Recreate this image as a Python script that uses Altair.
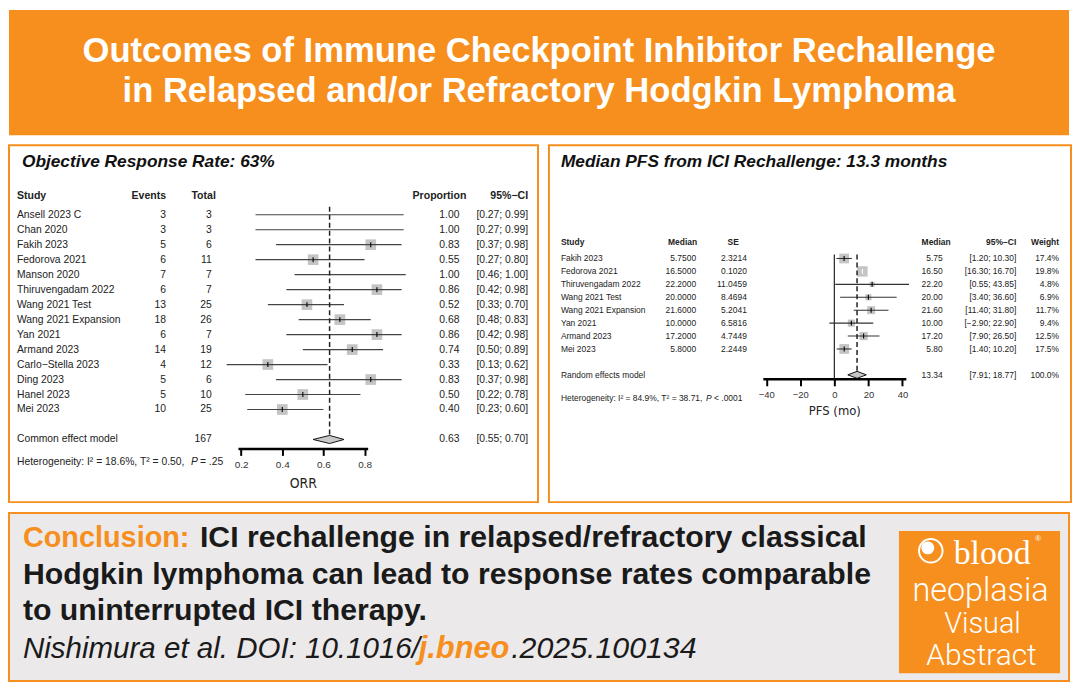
import altair as alt
import pandas as pd

# ------------------------------------------------------------------ data
orr_study = ["Ansell 2023 C", "Chan 2020", "Fakih 2023", "Fedorova 2021", "Manson 2020",
             "Thiruvengadam 2022", "Wang 2021 Test", "Wang 2021 Expansion", "Yan 2021",
             "Armand 2023", "Carlo\u2212Stella 2023", "Ding 2023", "Hanel 2023", "Mei 2023"]
orr_events = [3, 3, 5, 6, 7, 6, 13, 18, 6, 14, 4, 5, 5, 10]
orr_total = [3, 3, 6, 11, 7, 7, 25, 26, 7, 19, 12, 6, 10, 25]
orr_prop = [1.00, 1.00, 0.83, 0.55, 1.00, 0.86, 0.52, 0.68, 0.86, 0.74, 0.33, 0.83, 0.50, 0.40]
orr_lo = [0.27, 0.27, 0.37, 0.27, 0.46, 0.42, 0.33, 0.48, 0.42, 0.50, 0.13, 0.37, 0.22, 0.23]
orr_hi = [0.99, 0.99, 0.98, 0.80, 1.00, 0.98, 0.70, 0.83, 0.98, 0.89, 0.62, 0.98, 0.78, 0.60]
orr_model_label = "Common effect model"
orr_model_total = 167
orr_model_est = 0.63
orr_model_lo = 0.55
orr_model_hi = 0.70
orr_ticks = [0.2, 0.4, 0.6, 0.8]

pfs_study = ["Fakih 2023", "Fedorova 2021", "Thiruvengadam 2022", "Wang 2021 Test",
             "Wang 2021 Expansion", "Yan 2021", "Armand 2023", "Mei 2023"]
pfs_median = [5.75, 16.5, 22.2, 20.0, 21.6, 10.0, 17.2, 5.8]
pfs_se = [2.3214, 0.1020, 11.0459, 8.4694, 5.2041, 6.5816, 4.7449, 2.2449]
pfs_lo = [1.20, 16.30, 0.55, 3.40, 11.40, -2.90, 7.90, 1.40]
pfs_hi = [10.30, 16.70, 43.85, 36.60, 31.80, 22.90, 26.50, 10.20]
pfs_weight = [17.4, 19.8, 4.8, 6.9, 11.7, 9.4, 12.5, 17.5]
pfs_model_label = "Random effects model"
pfs_model_est = 13.34
pfs_model_lo = 7.91
pfs_model_hi = 18.77
pfs_model_weight = 100.0
pfs_ticks = [-40, -20, 0, 20, 40]

# ------------------------------------------------------------------ style
ORANGE = "#f78f1e"
GREY_BG = "#ebe9ea"
BOX = "#c4c4c4"
INK = "#222222"
SANS = "Liberation Sans"
NARROW = "Liberation Sans Narrow, DejaVu Sans Condensed, sans-serif"
LIGHT = "Roboto"


def fmt_ci(a, b):
    return f"[{a:.2f}; {b:.2f}]".replace("-", "\u2212")


def one(t):
    return pd.DataFrame({"t": [t]})


def text_layer(df, x, y, field="t", align="left", size=10.4, weight="normal",
               style="normal", color=INK, font=SANS, baseline="middle"):
    return alt.Chart(df).mark_text(
        align=align, baseline=baseline, fontSize=size, fontWeight=weight,
        fontStyle=style, color=color, font=font
    ).encode(x=alt.value(x), y=y, text=alt.Text(f"{field}:N"))


# ------------------------------------------------------------------ left panel (ORR)
orr = pd.DataFrame({"study": orr_study, "events": orr_events, "total": orr_total,
                    "prop": orr_prop, "lo": orr_lo, "hi": orr_hi})
orr["row"] = list(range(len(orr)))
orr["ev_t"] = orr["events"].astype(str)
orr["tot_t"] = orr["total"].astype(str)
orr["prop_t"] = orr["prop"].map(lambda v: f"{v:.2f}")
orr["ci_t"] = [fmt_ci(a, b) for a, b in zip(orr_lo, orr_hi)]

L_ROW_M = len(orr) + 1
orr_m = pd.DataFrame({"label": [orr_model_label], "tot_t": [str(orr_model_total)],
                      "est_t": [f"{orr_model_est:.2f}"],
                      "ci_t": [fmt_ci(orr_model_lo, orr_model_hi)], "row": [L_ROW_M]})
hL = 0.27
orr_dia = pd.DataFrame({"x": [orr_model_lo, orr_model_est, orr_model_hi],
                        "ya": [L_ROW_M, L_ROW_M - hL, L_ROW_M],
                        "yb": [L_ROW_M, L_ROW_M + hL, L_ROW_M]})
orr_ref = pd.DataFrame({"x": [orr_model_est], "ya": [-0.53], "yb": [L_ROW_M - hL]})

L_W, L_H = 532, 359
axL = alt.Axis(values=orr_ticks, format=".1f", offset=305 - L_H, orient="bottom",
               domainColor="black", domainWidth=2.6, tickColor="black", tickWidth=2,
               tickSize=7, labelFont=SANS, labelFontSize=10, labelColor="#333",
               labelPadding=4, labelFlush=False, grid=False, title="ORR",
               titleFont=NARROW, titleFontSize=14, titleFontWeight="normal",
               titleColor="#222", titlePadding=7)


def xL(f):
    return alt.X(f"{f}:Q", scale=alt.Scale(domain=[0.185, 0.815], range=[230.3, 360.7],
                                           nice=False, zero=False), axis=axL)


def yL(f):
    return alt.Y(f"{f}:Q", scale=alt.Scale(domain=[0, L_ROW_M], range=[70, 296],
                                           nice=False, zero=False), axis=None)


left_layers = [
    alt.Chart(orr).transform_filter("datum.prop < 1").mark_square(
        size=115, color=BOX, opacity=1).encode(x=xL("prop"), y=yL("row")),
    alt.Chart(orr).mark_rule(color="#444", strokeWidth=1.2).encode(
        x=xL("lo"), x2="hi:Q", y=yL("row")),
    alt.Chart(orr).transform_filter("datum.prop < 1").mark_rule(
        color="black", strokeWidth=1.1, yOffset=-2.5, y2Offset=2.5).encode(
        x=xL("prop"), y=yL("row"), y2="row:Q"),
    alt.Chart(orr_ref).mark_rule(color=INK, strokeWidth=1.5, strokeDash=[5, 3]).encode(
        x=xL("x"), y=yL("ya"), y2="yb:Q"),
    alt.Chart(orr_dia).mark_area(orient="vertical", fill="#c8c8c8", stroke="#111",
                                 strokeWidth=1, opacity=1).encode(
        x=xL("x"), y=yL("ya"), y2="yb:Q"),
    # title and headers
    text_layer(one("Objective Response Rate: 63%"), 13, alt.value(17), size=17.4,
               weight="bold", style="italic", color="#111"),
    text_layer(one("Study"), 8, alt.value(51), size=10.6, weight="bold"),
    text_layer(one("Events"), 158, alt.value(51), align="right", size=10.6, weight="bold"),
    text_layer(one("Total"), 208, alt.value(51), align="right", size=10.6, weight="bold"),
    text_layer(one("Proportion"), 460, alt.value(51), align="right", size=10.6, weight="bold"),
    text_layer(one("95%\u2212CI"), 522, alt.value(51), align="right", size=10.6, weight="bold"),
    # study rows
    text_layer(orr, 8, yL("row"), "study"),
    text_layer(orr, 158, yL("row"), "ev_t", align="right"),
    text_layer(orr, 204, yL("row"), "tot_t", align="right"),
    text_layer(orr, 453, yL("row"), "prop_t", align="right"),
    text_layer(orr, 522, yL("row"), "ci_t", align="right"),
    # model row
    text_layer(orr_m, 8, yL("row"), "label"),
    text_layer(orr_m, 204, yL("row"), "tot_t", align="right"),
    text_layer(orr_m, 453, yL("row"), "est_t", align="right"),
    text_layer(orr_m, 522, yL("row"), "ci_t", align="right"),
    # heterogeneity
    text_layer(one("Heterogeneity: I\u00b2 = 18.6%, T\u00b2 = 0.50,"), 8, alt.value(319), size=10.4),
    text_layer(one("P"), 183, alt.value(319), size=10.4, style="italic"),
    text_layer(one("= .25"), 192, alt.value(319), size=10.4),
]
left = alt.layer(*left_layers).properties(
    width=L_W, height=L_H,
    view=alt.ViewBackground(fill="white", stroke=ORANGE, strokeWidth=2))

# ------------------------------------------------------------------ right panel (PFS)
pfs = pd.DataFrame({"study": pfs_study, "median": pfs_median, "se": pfs_se,
                    "lo": pfs_lo, "hi": pfs_hi, "w": pfs_weight})
pfs["row"] = list(range(len(pfs)))
pfs["med4"] = pfs["median"].map(lambda v: f"{v:.4f}")
pfs["se_t"] = pfs["se"].map(lambda v: f"{v:.4f}")
pfs["med2"] = pfs["median"].map(lambda v: f"{v:.2f}")
pfs["ci_t"] = [fmt_ci(a, b) for a, b in zip(pfs_lo, pfs_hi)]
pfs["w_t"] = pfs["w"].map(lambda v: f"{v:.1f}%")
PX_PER = 1.7125
pfs["tc"] = ["white" if (b - a) * PX_PER < 2.3 * (w ** 0.5) else "black"
             for a, b, w in zip(pfs_lo, pfs_hi, pfs_weight)]

R_ROW_M = len(pfs) + 1
pfs_m = pd.DataFrame({"label": [pfs_model_label], "est_t": [f"{pfs_model_est:.2f}"],
                      "ci_t": [fmt_ci(pfs_model_lo, pfs_model_hi)],
                      "w_t": [f"{pfs_model_weight:.1f}%"], "row": [R_ROW_M]})
hR = 0.27
pfs_dia = pd.DataFrame({"x": [pfs_model_lo, pfs_model_est, pfs_model_hi],
                        "ya": [R_ROW_M, R_ROW_M - hR, R_ROW_M],
                        "yb": [R_ROW_M, R_ROW_M + hR, R_ROW_M]})
pfs_ref = pd.DataFrame({"x": [pfs_model_est], "ya": [-0.31], "yb": [R_ROW_M - hR]})
pfs_zero = pd.DataFrame({"x": [0], "ya": [-0.31], "yb": [R_ROW_M + 0.31]})

R_W, R_H = 525, 359
axR = alt.Axis(values=pfs_ticks, format="d", offset=235 - R_H, orient="bottom",
               domainColor="black", domainWidth=2.6, tickColor="black", tickWidth=2,
               tickSize=7, labelFont=SANS, labelFontSize=9.5, labelColor="#333",
               labelPadding=4, labelFlush=False, grid=False, title="PFS (mo)",
               titleFont=NARROW, titleFontSize=13, titleFontWeight="normal",
               titleColor="#222", titlePadding=5)


def xR(f):
    return alt.X(f"{f}:Q", scale=alt.Scale(domain=[-42, 42], range=[215.1, 358.9],
                                           nice=False, zero=False), axis=axR)


def yR(f):
    return alt.Y(f"{f}:Q", scale=alt.Scale(domain=[0, R_ROW_M], range=[114, 231],
                                           nice=False, zero=False), axis=None)


RS = 8.5
right_layers = [
    alt.Chart(pfs_zero).mark_rule(color="#222", strokeWidth=1.2).encode(
        x=xR("x"), y=yR("ya"), y2="yb:Q"),
    alt.Chart(pfs).mark_square(color=BOX, opacity=1).encode(
        x=xR("median"), y=yR("row"),
        size=alt.Size("w:Q", scale=alt.Scale(domain=[0, 20], range=[0, 110], zero=True),
                      legend=None)),
    alt.Chart(pfs).mark_rule(color="#333", strokeWidth=1.1).encode(
        x=xR("lo"), x2="hi:Q", y=yR("row")),
    alt.Chart(pfs).mark_rule(strokeWidth=1.1, yOffset=-2.5, y2Offset=2.5).encode(
        x=xR("median"), y=yR("row"), y2="row:Q", color=alt.Color("tc:N", scale=None)),
    alt.Chart(pfs_ref).mark_rule(color=INK, strokeWidth=1.5, strokeDash=[5, 3]).encode(
        x=xR("x"), y=yR("ya"), y2="yb:Q"),
    alt.Chart(pfs_dia).mark_area(orient="vertical", fill="#c8c8c8", stroke="#111",
                                 strokeWidth=1, opacity=1).encode(
        x=xR("x"), y=yR("ya"), y2="yb:Q"),
    text_layer(one("Median PFS from ICI Rechallenge: 13.3 months"), 12, alt.value(17),
               size=17.4, weight="bold", style="italic", color="#111"),
    text_layer(one("Study"), 12, alt.value(97), size=RS, weight="bold"),
    text_layer(one("Median"), 149, alt.value(97), align="right", size=RS, weight="bold"),
    text_layer(one("SE"), 191, alt.value(97), align="right", size=RS, weight="bold"),
    text_layer(one("Median"), 404, alt.value(97), align="right", size=RS, weight="bold"),
    text_layer(one("95%\u2212CI"), 470, alt.value(97), align="right", size=RS, weight="bold"),
    text_layer(one("Weight"), 513, alt.value(97), align="right", size=RS, weight="bold"),
    text_layer(pfs, 12, yR("row"), "study", size=RS),
    text_layer(pfs, 148, yR("row"), "med4", align="right", size=RS),
    text_layer(pfs, 199, yR("row"), "se_t", align="right", size=RS),
    text_layer(pfs, 396, yR("row"), "med2", align="right", size=RS),
    text_layer(pfs, 470, yR("row"), "ci_t", align="right", size=RS),
    text_layer(pfs, 513, yR("row"), "w_t", align="right", size=RS),
    text_layer(pfs_m, 12, yR("row"), "label", size=RS),
    text_layer(pfs_m, 396, yR("row"), "est_t", align="right", size=RS),
    text_layer(pfs_m, 470, yR("row"), "ci_t", align="right", size=RS),
    text_layer(pfs_m, 513, yR("row"), "w_t", align="right", size=RS),
    text_layer(one("Heterogeneity: I\u00b2 = 84.9%, T\u00b2 = 38.71,"), 12, alt.value(254), size=RS),
    text_layer(one("P"), 158, alt.value(254), size=RS, style="italic"),
    text_layer(one("< .0001"), 166, alt.value(254), size=RS),
]
right = alt.layer(*right_layers).properties(
    width=R_W, height=R_H,
    view=alt.ViewBackground(fill="white", stroke=ORANGE, strokeWidth=2))

# ------------------------------------------------------------------ banner
B_W, B_H = 1066, 126
banner = alt.layer(
    text_layer(one("Outcomes of Immune Checkpoint Inhibitor Rechallenge"), 533, alt.value(52),
               align="center", size=34.8, weight="bold", color="white", baseline="alphabetic"),
    text_layer(one("in Relapsed and/or Refractory Hodgkin Lymphoma"), 533, alt.value(93),
               align="center", size=34.8, weight="bold", color="white", baseline="alphabetic"),
).properties(width=B_W, height=B_H,
             view=alt.ViewBackground(fill=ORANGE, stroke="transparent", strokeWidth=0))

# ------------------------------------------------------------------ conclusion box
C_W, C_H = 1066, 169
CS = 30.4
logo_box = pd.DataFrame({"t": ["logo"]})
bottom = alt.layer(
    text_layer(one("Conclusion:"), 14, alt.value(34), size=29, weight="bold",
               color=ORANGE, baseline="alphabetic"),
    text_layer(one("ICI rechallenge in relapsed/refractory classical"), 192, alt.value(34),
               size=CS, weight="bold", color="#1a1a1a", baseline="alphabetic"),
    text_layer(one("Hodgkin lymphoma can lead to response rates comparable"), 14, alt.value(71),
               size=CS, weight="bold", color="#1a1a1a", baseline="alphabetic"),
    text_layer(one("to uninterrupted ICI therapy."), 14, alt.value(108),
               size=CS, weight="bold", color="#1a1a1a", baseline="alphabetic"),
    text_layer(one("Nishimura et al. DOI: 10.1016/"), 14, alt.value(146), size=29.7,
               style="italic", color="#1a1a1a", baseline="alphabetic"),
    text_layer(one("j.bneo"), 412, alt.value(146), size=31, style="italic",
               weight="bold", color=ORANGE, baseline="alphabetic"),
    text_layer(one(".2025.100134"), 505, alt.value(146), size=30.5, style="italic",
               color="#1a1a1a", baseline="alphabetic"),
    alt.Chart(logo_box).mark_rect(color=ORANGE).encode(
        x=alt.value(895), x2=alt.value(1057), y=alt.value(18), y2=alt.value(161)),
    alt.Chart(logo_box).mark_point(shape="circle", filled=False, stroke="white",
                                   strokeWidth=2, size=560, opacity=1).encode(
        x=alt.value(927), y=alt.value(38)),
    alt.Chart(logo_box).mark_point(shape="circle", filled=True, color="white",
                                   size=170, opacity=1).encode(
        x=alt.value(924), y=alt.value(35)),
    text_layer(one("blood"), 950, alt.value(51), size=34, color="white",
               font="Liberation Serif", baseline="alphabetic"),
    text_layer(one("\u00ae"), 1032, alt.value(26), size=8, color="white"),
    text_layer(one("neoplasia"), 977, alt.value(88), align="center", size=32.5,
               weight=300, color="white", font=LIGHT, baseline="alphabetic"),
    text_layer(one("Visual"), 979, alt.value(121), align="center", size=29,
               weight=300, color="white", font=LIGHT, baseline="alphabetic"),
    text_layer(one("Abstract"), 978, alt.value(153), align="center", size=30,
               weight=300, color="white", font=LIGHT, baseline="alphabetic"),
).properties(width=C_W, height=C_H,
             view=alt.ViewBackground(fill=GREY_BG, stroke=ORANGE, strokeWidth=2))

chart = alt.vconcat(
    banner,
    alt.hconcat(left, right, spacing=9),
    bottom,
    spacing=9,
).properties(padding=0, background="white").configure(font=SANS).configure_view(strokeWidth=0)

chart.save("out.html", embed_options={"renderer": "svg", "actions": False})
